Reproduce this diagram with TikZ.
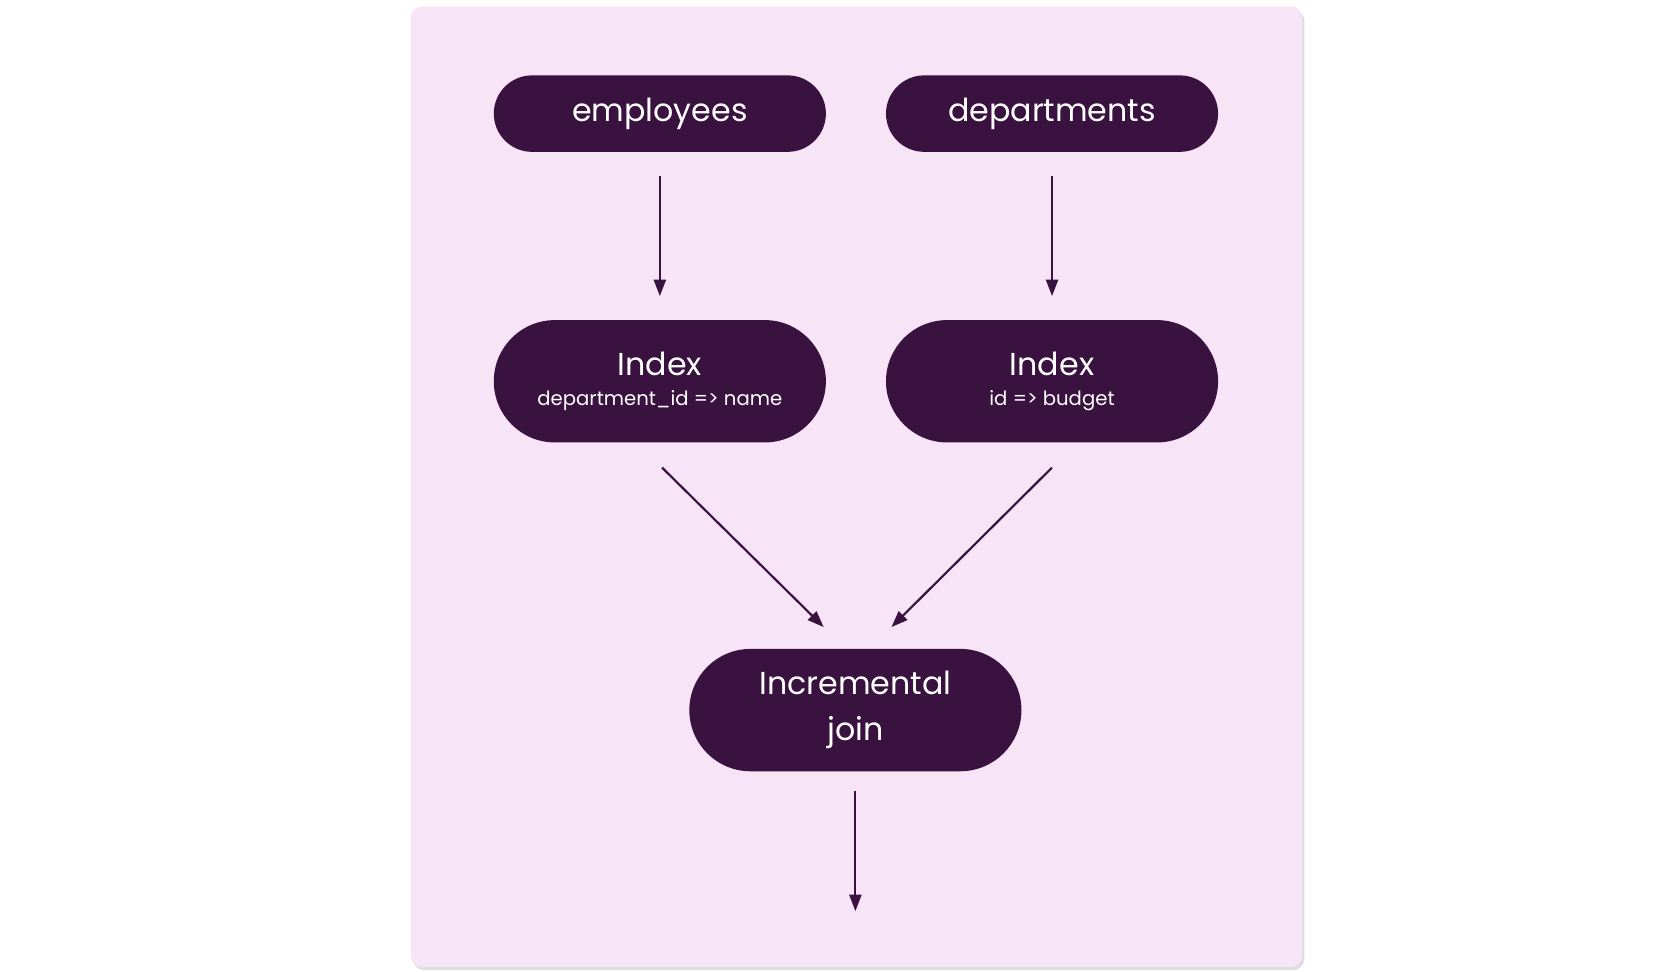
\documentclass[tikz,border=0pt]{standalone}
\usepackage{fontspec}
\setmainfont{Poppins}
\usetikzlibrary{arrows.meta,shadows,shapes.misc}
\definecolor{panel}{HTML}{F7E4F6}
\definecolor{dark}{HTML}{3A1240}
\begin{document}
\begin{tikzpicture}[x=1pt,y=-1pt,
  pill/.style={fill=dark,rounded rectangle,rounded rectangle arc length=180,text=white,align=center,inner sep=0pt,minimum width=304pt},
  big/.style={font=\fontsize{29}{42}\selectfont},
  arr/.style={draw=dark,line width=2pt,-{Triangle[length=15pt,width=11pt]}}]
\useasboundingbox (0,0) rectangle (1536,889);
\fill[panel,rounded corners=10pt,drop shadow={opacity=0.25,shadow xshift=2pt,shadow yshift=-3pt}] (376,6) rectangle (1192,885);
\node[pill,big,minimum height=70pt] (emp) at (604,104) {\raisebox{-3pt}{employees}};
\node[pill,big,minimum height=70pt] (dep) at (963,104) {\raisebox{-3pt}{departments}};
\node[pill,minimum height=112pt] (ie) at (604,349) {{\fontsize{29}{40}\selectfont Index}\\[12pt]{\fontsize{18}{22}\selectfont department\_id => name}};
\node[pill,minimum height=112pt] (id) at (963,349) {{\fontsize{29}{40}\selectfont Index}\\[12pt]{\fontsize{18}{22}\selectfont id => budget}};
\node[pill,big,minimum height=112pt] (join) at (783,650) {Incremental\\join};
\coordinate (e1) at (604,161); \coordinate (e2) at (604,271);
\coordinate (d1) at (963,161); \coordinate (d2) at (963,271);
\coordinate (i1) at (606,428); \coordinate (i2) at (754,574);
\coordinate (j1) at (963,428); \coordinate (j2) at (816,574);
\coordinate (o1) at (783,724); \coordinate (out) at (783,834);
\draw[arr] (e1) -- (e2);
\draw[arr] (d1) -- (d2);
\draw[arr] (i1) -- (i2);
\draw[arr] (j1) -- (j2);
\draw[arr] (o1) -- (out);
\end{tikzpicture}
\end{document}
